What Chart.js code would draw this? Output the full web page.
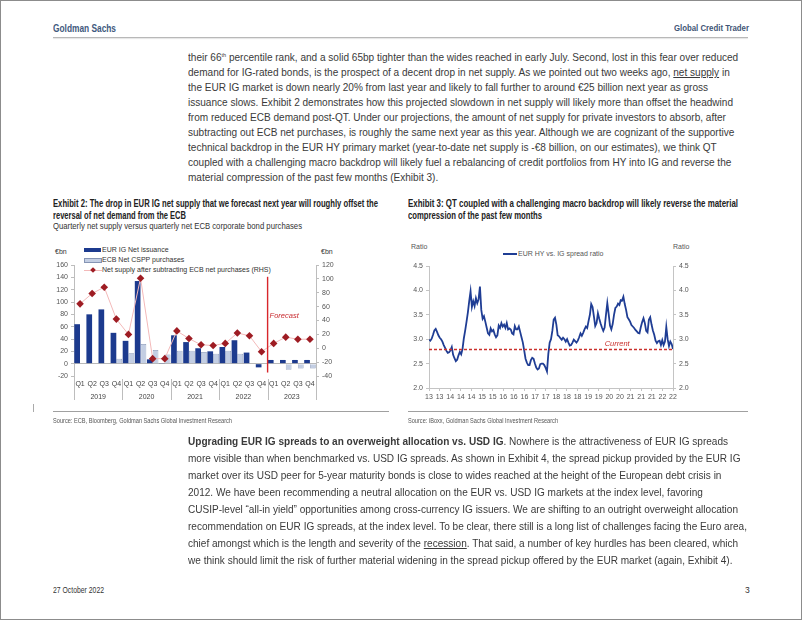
<!DOCTYPE html>
<html>
<head>
<meta charset="utf-8">
<script src="https://cdn.jsdelivr.net/npm/chart.js@4.4.1/dist/chart.umd.min.js"></script>
<style>
  body { margin: 0; background: #fff; }
  #page { position: relative; width: 802px; height: 620px; overflow: hidden; font-family: "Liberation Sans", Arial, sans-serif; color: #3a3a3a; }
  #frame { position: absolute; left: 0; top: 0; width: 800px; height: 618px; border: 1px solid #8c8c8c; }
  .t { position: absolute; white-space: nowrap; transform-origin: 0 0; }
  .bl { left: 188px; font-size: 11px; line-height: 14px; }
  .ttl { font-size: 10px; font-weight: bold; color: #222; line-height: 11px; }
  .sub { font-size: 9px; color: #333; line-height: 11px; }
  .src { font-size: 6.5px; color: #555; line-height: 8px; }
  .lg { font-size: 7px; color: #333; line-height: 8px; }
  .rule { position: absolute; height: 0; border-top: 1px solid #a0a0a0; }
  canvas { position: absolute; }
  sup { font-size: 6px; vertical-align: 4px; line-height: 0; }
  u { text-decoration-thickness: 1px; }
</style>
</head>
<body>
<div id="page">
  <div id="frame"></div>

  <!-- header -->
  <div class="t" data-w="63" style="left:53px;top:22px;font-size:11.5px;line-height:12px;font-weight:bold;color:#3f5a7e">Goldman Sachs</div>
  <div class="t" data-w="75" style="left:674px;top:23px;font-size:9px;line-height:10px;font-weight:bold;color:#3f5576">Global Credit Trader</div>
  <div style="position:absolute;left:53px;top:37px;width:695px;height:1px;background:#b8b8b8;box-shadow:0 1px 1px #e2e2e2"></div>

  <!-- paragraph 1 -->
  <div class="t bl" style="top:50px">their 66<sup>th</sup> percentile rank, and a solid 65bp tighter than the wides reached in early July. Second, lost in this fear over reduced</div>
  <div class="t bl" style="top:65px">demand for IG-rated bonds, is the prospect of a decent drop in net supply. As we pointed out two weeks ago, <u>net supply</u> in</div>
  <div class="t bl" style="top:80px">the EUR IG market is down nearly 20% from last year and likely to fall further to around €25 billion next year as gross</div>
  <div class="t bl" style="top:95px">issuance slows. Exhibit 2 demonstrates how this projected slowdown in net supply will likely more than offset the headwind</div>
  <div class="t bl" style="top:110px">from reduced ECB demand post-QT. Under our projections, the amount of net supply for private investors to absorb, after</div>
  <div class="t bl" style="top:125px">subtracting out ECB net purchases, is roughly the same next year as this year. Although we are cognizant of the supportive</div>
  <div class="t bl" style="top:140px">technical backdrop in the EUR HY primary market (year-to-date net supply is -€8 billion, on our estimates), we think QT</div>
  <div class="t bl" style="top:155px">coupled with a challenging macro backdrop will likely fuel a rebalancing of credit portfolios from HY into IG and reverse the</div>
  <div class="t bl" style="top:170px">material compression of the past few months (Exhibit 3).</div>

  <!-- exhibit titles -->
  <div class="t ttl" data-w="325" style="left:53px;top:198px">Exhibit 2: The drop in EUR IG net supply that we forecast next year will roughly offset the</div>
  <div class="t ttl" data-w="133" style="left:53px;top:210px">reversal of net demand from the ECB</div>
  <div class="t sub" data-w="249" style="left:53px;top:221px">Quarterly net supply versus quarterly net ECB corporate bond purchases</div>

  <div class="t ttl" data-w="330" style="left:408px;top:198px">Exhibit 3: QT coupled with a challenging macro backdrop will likely reverse the material</div>
  <div class="t ttl" data-w="134" style="left:408px;top:210px">compression of the past few months</div>

  <!-- exhibit 2 legend and axis titles -->
  <div class="t lg" style="left:55px;top:248px">€bn</div>
  <div class="t lg" style="left:321px;top:248px">€bn</div>
  <div style="position:absolute;left:84px;top:248px;width:17px;height:4px;background:#1c3a8e"></div>
  <div class="t lg" style="left:102px;top:246px">EUR IG Net issuance</div>
  <div style="position:absolute;left:84px;top:258px;width:16px;height:3px;background:#c3cee3;border:0.7px solid #8594b4"></div>
  <div class="t lg" style="left:102px;top:256px">ECB Net CSPP purchases</div>
  <div style="position:absolute;left:84px;top:270px;width:18px;height:1px;background:#f3b9b9"></div>
  <div style="position:absolute;left:90.5px;top:268px;width:4px;height:4px;background:#9e1c23;transform:rotate(45deg)"></div>
  <div class="t lg" style="left:102px;top:266px">Net supply after subtracting ECB net purchases (RHS)</div>

  <!-- exhibit 3 legend and axis titles -->
  <div class="t lg" style="left:411px;top:243px;color:#555">Ratio</div>
  <div class="t lg" style="left:673px;top:243px;color:#555">Ratio</div>
  <div style="position:absolute;left:503px;top:253px;width:14px;height:2px;background:#1f3d94"></div>
  <div class="t lg" style="left:518px;top:250px;color:#555">EUR HY vs. IG spread ratio</div>

  <canvas id="c1" width="345" height="175" style="left:50px;top:240px"></canvas>
  <canvas id="c2" width="300" height="175" style="left:400px;top:240px"></canvas>

  <!-- sources -->
  <div class="rule" style="left:53px;top:411px;width:336px"></div>
  <div class="rule" style="left:408px;top:411px;width:340px"></div>
  <div class="t src" data-w="179" style="left:53px;top:417px">Source: ECB, Bloomberg, Goldman Sachs Global Investment Research</div>
  <div class="t src" data-w="150" style="left:408px;top:417px">Source: iBoxx, Goldman Sachs Global Investment Research</div>
  <div style="position:absolute;left:33px;top:404px;width:1px;height:8px;background:#aaa"></div>

  <!-- paragraph 2 -->
  <div class="t bl" style="top:434px"><b>Upgrading EUR IG spreads to an overweight allocation vs. USD IG</b>. Nowhere is the attractiveness of EUR IG spreads</div>
  <div class="t bl" style="top:451px">more visible than when benchmarked vs. USD IG spreads. As shown in Exhibit 4, the spread pickup provided by the EUR IG</div>
  <div class="t bl" style="top:468px">market over its USD peer for 5-year maturity bonds is close to wides reached at the height of the European debt crisis in</div>
  <div class="t bl" style="top:485px">2012. We have been recommending a neutral allocation on the EUR vs. USD IG markets at the index level, favoring</div>
  <div class="t bl" style="top:502px">CUSIP-level “all-in yield” opportunities among cross-currency IG issuers. We are shifting to an outright overweight allocation</div>
  <div class="t bl" id="refLine" style="top:519px">recommendation on EUR IG spreads, at the index level. To be clear, there still is a long list of challenges facing the Euro area,</div>
  <div class="t bl" style="top:536px">chief amongst which is the length and severity of the <u>recession</u>. That said, a number of key hurdles has been cleared, which</div>
  <div class="t bl" style="top:553px">we think should limit the risk of further material widening in the spread pickup offered by the EUR market (again, Exhibit 4).</div>

  <!-- footer -->
  <div class="t" data-w="51" style="left:53px;top:585px;font-size:8.5px;line-height:10px;color:#333">27 October 2022</div>
  <div class="t" style="left:745px;top:585px;font-size:8.5px;line-height:10px;color:#333">3</div>
</div>

<script>
// --- Exhibit 2 data (EUR bn per quarter) ---
const quarters = ['Q1','Q2','Q3','Q4','Q1','Q2','Q3','Q4','Q1','Q2','Q3','Q4','Q1','Q2','Q3','Q4','Q1','Q2','Q3','Q4'];
const years = ['2019', '2020', '2021', '2022', '2023'];
const netIssuance  = [64, 80, 88, 50,  37, 134, 7, 0.5,  46, 35, 25, 20,  27, 38, 18, -6,  6, 6, 6, 6];
const ecbPurchases = [0.5, 0.5, 1, 8,  17, 32, 22, 15,  21, 21, 19, 16,  21, 16, 0.5, 0,  0, -10, -8, -8];
const netAfterEcb  = [64, 79, 88, 42,  20, 101, -15, -15,  25, 14, 5, 4,  7, 22, 18, -5,  7, 16, 13, 13];

// --- Exhibit 3 data (EUR HY / IG spread ratio, 2013 to Oct 2022) ---
const hyIgRatio = [
  2.99, 2.97, 3.01, 3.09, 3.18, 3.21, 3.15, 3.08, 3.03, 3.00,
  2.95, 2.88, 2.82, 2.76, 2.72, 2.73, 2.77, 2.84, 2.68, 2.61,
  2.55, 2.58, 2.67, 2.74, 2.69, 2.80, 3.02, 3.18, 3.36, 3.55,
  3.78, 3.98, 3.66, 3.78, 3.68, 3.84, 3.74, 3.82, 4.08, 3.60,
  3.42, 3.47, 3.36, 3.24, 3.12, 3.09, 3.22, 3.16, 3.19, 3.10,
  3.04, 3.08, 3.28, 3.23, 3.33, 3.26, 3.30, 3.23, 3.33, 3.20,
  3.22, 3.20, 3.12, 3.10, 3.27, 3.20, 3.20, 3.26, 3.15, 3.04,
  2.93, 2.77, 2.60, 2.52, 2.47, 2.47, 2.57, 2.62, 2.60, 2.50,
  2.42, 2.38, 2.40, 2.49, 2.50, 2.50, 2.47, 2.41, 2.34, 2.70,
  2.93, 3.00, 3.17, 3.40, 3.44, 3.30, 3.08, 3.06, 3.02, 2.99,
  3.03, 3.00, 2.95, 3.00, 2.93, 2.87, 2.88, 2.93, 2.99, 2.96,
  2.93, 2.97, 3.04, 3.12, 3.07, 3.13, 3.20, 3.26, 3.23, 3.37,
  3.50, 3.72, 3.66, 3.47, 3.27, 3.33, 3.53, 3.42, 3.32, 3.24,
  3.17, 3.24, 3.50, 3.74, 3.52, 3.28, 3.20, 3.31, 3.50, 3.64,
  3.67, 3.73, 3.70, 3.80, 3.79, 3.87, 3.72, 3.60, 3.45, 3.41,
  3.36, 3.29, 3.26, 3.23, 3.19, 3.16, 3.13, 3.12, 3.25, 3.35,
  3.43, 3.33, 3.17, 3.14, 3.40, 3.45, 3.30, 3.18, 3.09, 2.97,
  2.92, 2.96, 2.97, 2.88, 2.98, 2.88, 2.95, 3.25, 3.00, 2.86,
  2.95, 2.90, 2.80
];
const ratioTickLabels = ['13','13','14','14','14','15','15','16','16','16','17','17',
                         '18','18','18','19','19','20','20','21','21','21','22','22'];
const currentRatio = 2.79;

// --- text fitting (report font is condensed) ---
function natWidth(el) {
  el.style.transform = '';
  return el.getBoundingClientRect().width;
}
document.querySelectorAll('[data-w]').forEach(el => {
  const k = +el.dataset.w / natWidth(el);
  el.style.transform = 'scaleX(' + k + ')';
});
const bodyScale = 559 / natWidth(document.getElementById('refLine'));
document.querySelectorAll('.bl').forEach(el => { el.style.transform = 'scaleX(' + bodyScale + ')'; });

const FONT = '"Liberation Sans", Arial, sans-serif';
const tickFont = { family: FONT, size: 7 };

// year groups, dividers and forecast marker under/over the quarterly chart
const yearAxis = {
  id: 'yearAxis',
  afterDraw(chart, args, opts) {
    const { ctx, chartArea: a, scales: { x, y1 } } = chart;
    ctx.save();
    ctx.strokeStyle = '#bdbdbd';
    ctx.lineWidth = 1;
    for (let i = 0; i <= years.length; i++) {
      const px = Math.round(x.getPixelForValue(i * 4 - 0.5)) + 0.5;
      const top = (i === 0 || i === years.length) ? a.bottom : a.bottom + 3;
      ctx.beginPath();
      ctx.moveTo(px, top);
      ctx.lineTo(px, a.bottom + 24);
      ctx.stroke();
    }
    ctx.fillStyle = '#444';
    ctx.font = '7px ' + FONT;
    ctx.textAlign = 'center';
    ctx.textBaseline = 'middle';
    years.forEach((yr, i) => {
      ctx.fillText(yr, x.getPixelForValue(i * 4 + 1.5), a.bottom + 21);
    });
    // forecast divider
    const fx = x.getPixelForValue(opts.after + 0.5);
    ctx.strokeStyle = '#d8262b';
    ctx.lineWidth = 1.4;
    ctx.beginPath();
    ctx.moveTo(fx, y1.getPixelForValue(opts.top));
    ctx.lineTo(fx, y1.getPixelForValue(opts.bottom));
    ctx.stroke();
    ctx.fillStyle = '#c8282d';
    ctx.font = 'italic 7.5px ' + FONT;
    ctx.textAlign = 'left';
    ctx.fillText('Forecast', fx + 2, y1.getPixelForValue(opts.labelAt));
    ctx.restore();
  }
};

new Chart(document.getElementById('c1'), {
  type: 'bar',
  data: {
    labels: quarters,
    datasets: [
      {
        label: 'EUR IG Net issuance', data: netIssuance, yAxisID: 'y',
        backgroundColor: '#1c3a8e', categoryPercentage: 0.96, barPercentage: 0.98
      },
      {
        label: 'ECB Net CSPP purchases', data: ecbPurchases, yAxisID: 'y',
        backgroundColor: '#c3cee3', borderColor: '#8594b4', borderWidth: 0.7,
        categoryPercentage: 0.96, barPercentage: 0.98
      },
      {
        type: 'line', label: 'Net supply after subtracting ECB net purchases (RHS)',
        data: netAfterEcb, yAxisID: 'y1', order: -1,
        borderColor: '#f3b9b9', borderWidth: 1,
        pointStyle: 'rectRot', pointRadius: 3.8, pointBorderWidth: 0,
        pointBackgroundColor: '#9e1c23', pointBorderColor: '#9e1c23'
      }
    ]
  },
  options: {
    responsive: false, animation: false, devicePixelRatio: 1,
    layout: { padding: { top: 25, left: 0, right: 0, bottom: 0 } },
    plugins: {
      legend: { display: false }, tooltip: { enabled: false },
      yearAxis: { after: 15, top: 103, bottom: -35, labelAt: 47 }
    },
    scales: {
      x: {
        grid: { display: false, drawTicks: false }, border: { display: false },
        ticks: { font: tickFont, color: '#444', padding: 4, maxRotation: 0, autoSkip: false },
        afterFit: s => { s.height = 39; }
      },
      y: {
        position: 'left', min: -20, max: 160,
        ticks: { stepSize: 20, font: tickFont, color: '#555', padding: 3 },
        grid: {
          color: c => (c.tick && c.tick.value === 0) ? '#b8b8b8' : 'rgba(0,0,0,0)',
          tickColor: '#bdbdbd', tickLength: 3
        },
        border: { color: '#bdbdbd' },
        afterFit: s => { s.width = 24; }
      },
      y1: {
        position: 'right', min: -40, max: 120,
        ticks: { stepSize: 20, font: tickFont, color: '#555', padding: 3 },
        grid: { drawOnChartArea: false, tickColor: '#bdbdbd', tickLength: 3 },
        border: { color: '#bdbdbd' },
        afterFit: s => { s.width = 79; }
      }
    }
  },
  plugins: [yearAxis]
});

// dashed "current" level on the ratio chart
const currentLine = {
  id: 'currentLine',
  afterDatasetsDraw(chart, args, opts) {
    const { ctx, chartArea: a, scales: { x, y } } = chart;
    const py = y.getPixelForValue(opts.value);
    ctx.save();
    ctx.strokeStyle = '#c9302c';
    ctx.lineWidth = 1.4;
    ctx.setLineDash([3, 2]);
    ctx.beginPath();
    ctx.moveTo(a.left, py);
    ctx.lineTo(a.right, py);
    ctx.stroke();
    ctx.fillStyle = '#c9302c';
    ctx.font = 'italic 7.5px ' + FONT;
    ctx.textBaseline = 'middle';
    ctx.fillText('Current', x.getPixelForValue(opts.labelX), y.getPixelForValue(opts.labelY));
    ctx.restore();
  }
};

const lastIdx = hyIgRatio.length - 1;
const axisGrey = '#c4c4c4';

new Chart(document.getElementById('c2'), {
  type: 'line',
  data: {
    datasets: [{
      label: 'EUR HY vs. IG spread ratio',
      data: hyIgRatio.map((v, i) => ({ x: i, y: v })),
      borderColor: '#1f3d94', borderWidth: 1.8, pointRadius: 0, tension: 0
    }]
  },
  options: {
    responsive: false, animation: false, devicePixelRatio: 1,
    layout: { padding: { top: 26, left: 0, right: 0, bottom: 0 } },
    plugins: {
      legend: { display: false }, tooltip: { enabled: false },
      currentLine: { value: currentRatio, labelX: 131, labelY: 2.91 }
    },
    scales: {
      x: {
        type: 'linear', min: 0, max: lastIdx,
        afterBuildTicks: s => {
          s.ticks = ratioTickLabels.map((_, i) => ({ value: i * lastIdx / (ratioTickLabels.length - 1) }));
        },
        ticks: {
          callback: (v, i) => ratioTickLabels[i],
          font: tickFont, color: '#555', padding: 2, maxRotation: 0, minRotation: 0, autoSkip: false
        },
        grid: { drawOnChartArea: false, tickColor: axisGrey, tickLength: 3 },
        border: { color: axisGrey },
        afterFit: s => { s.height = 27; }
      },
      y: {
        position: 'left', min: 2, max: 4.5,
        ticks: { stepSize: 0.5, font: tickFont, color: '#555', padding: 3, callback: v => v.toFixed(1) },
        grid: { drawOnChartArea: false, tickColor: axisGrey, tickLength: 3 },
        border: { color: axisGrey },
        afterFit: s => { s.width = 29; }
      },
      y1: {
        position: 'right', min: 2, max: 4.5,
        ticks: { stepSize: 0.5, font: tickFont, color: '#555', padding: 3, callback: v => v.toFixed(1) },
        grid: { drawOnChartArea: false, tickColor: axisGrey, tickLength: 3 },
        border: { color: axisGrey },
        afterFit: s => { s.width = 27; }
      }
    }
  },
  plugins: [currentLine]
});
</script>
</body>
</html>
